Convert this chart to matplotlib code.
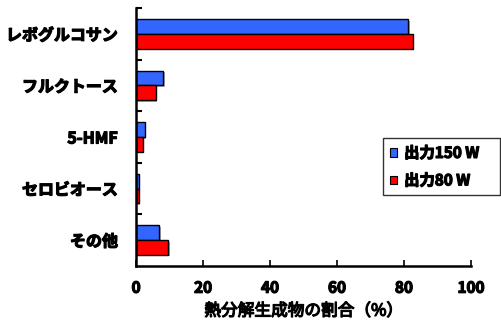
import matplotlib
matplotlib.use("Agg")
import numpy as np
import matplotlib.pyplot as plt
from matplotlib import patheffects as pe

plt.rcParams['font.family'] = ['Noto Sans CJK JP', 'DejaVu Sans']
plt.rcParams['font.weight'] = 'bold'

# 熱分解生成物の割合 (%)
products = ['レボグルコサン', 'フルクトース', '5-HMF', 'セロビオース', 'その他']
ratio_150w = [81.3, 8.1, 2.6, 0.8, 6.9]
ratio_80w = [82.6, 5.9, 2.0, 0.8, 9.6]
series_labels = ['出力150 W', '出力80 W']

# thicker glyph outlines for a heavy gothic look
heavy = [pe.withStroke(linewidth=0.9, foreground='black')]

fig = plt.figure(figsize=(5.02, 3.25), dpi=100)
ax = fig.add_axes([0.271, 0.182, 0.667, 0.793])

y = np.arange(len(products))
h = 0.285
shadow = [pe.SimplePatchShadow(offset=(1.2, -1.2), shadow_rgbFace='#888888', alpha=0.7), pe.Normal()]
b1 = ax.barh(y - h / 2, ratio_150w, height=h, color='#3366ff', edgecolor='black', linewidth=1.0,
             label=series_labels[0])
b2 = ax.barh(y + h / 2, ratio_80w, height=h, color='#ff0000', edgecolor='black', linewidth=1.0,
             label=series_labels[1])
for bar in list(b1) + list(b2):
    bar.set_path_effects(shadow)

ax.set_xlim(0, 100)
ax.set_ylim(len(products) - 0.5, -0.5)
ax.set_xticks(np.arange(0, 101, 20))
ax.set_yticks(y)
ax.set_yticklabels(products)
ax.set_yticks(np.arange(-0.5, len(products) - 0.5), minor=True)

ax.tick_params(axis='y', which='major', length=0, pad=13, labelsize=11.5)
ax.tick_params(axis='y', which='minor', direction='in', length=4, width=1.5)
ax.tick_params(axis='x', direction='in', length=4, width=1.2, pad=10, labelsize=11)
for lbl in ax.get_xticklabels() + ax.get_yticklabels():
    lbl.set_path_effects(heavy)

for side in ['top', 'right']:
    ax.spines[side].set_visible(False)
for side in ['left', 'bottom']:
    ax.spines[side].set_linewidth(1.8)

xl = ax.set_xlabel('熱分解生成物の割合（%）', fontsize=12, labelpad=5)
xl.set_path_effects(heavy)

leg = ax.legend(loc='upper left', bbox_to_anchor=(0.737, 0.296, 0.35, 0.2), mode='expand',
                borderaxespad=0, frameon=True, fancybox=False,
                handlelength=0.45, handleheight=0.45, handletextpad=0.5, borderpad=0.45,
                labelspacing=0.75, prop={'size': 11})
leg.get_frame().set_edgecolor('black')
leg.get_frame().set_linewidth(1.0)
for hnd in leg.legend_handles:
    hnd.set_path_effects([])
    hnd.set_linewidth(0.8)
for t in leg.get_texts():
    t.set_path_effects(heavy)

fig.savefig('out.png', dpi=100)
